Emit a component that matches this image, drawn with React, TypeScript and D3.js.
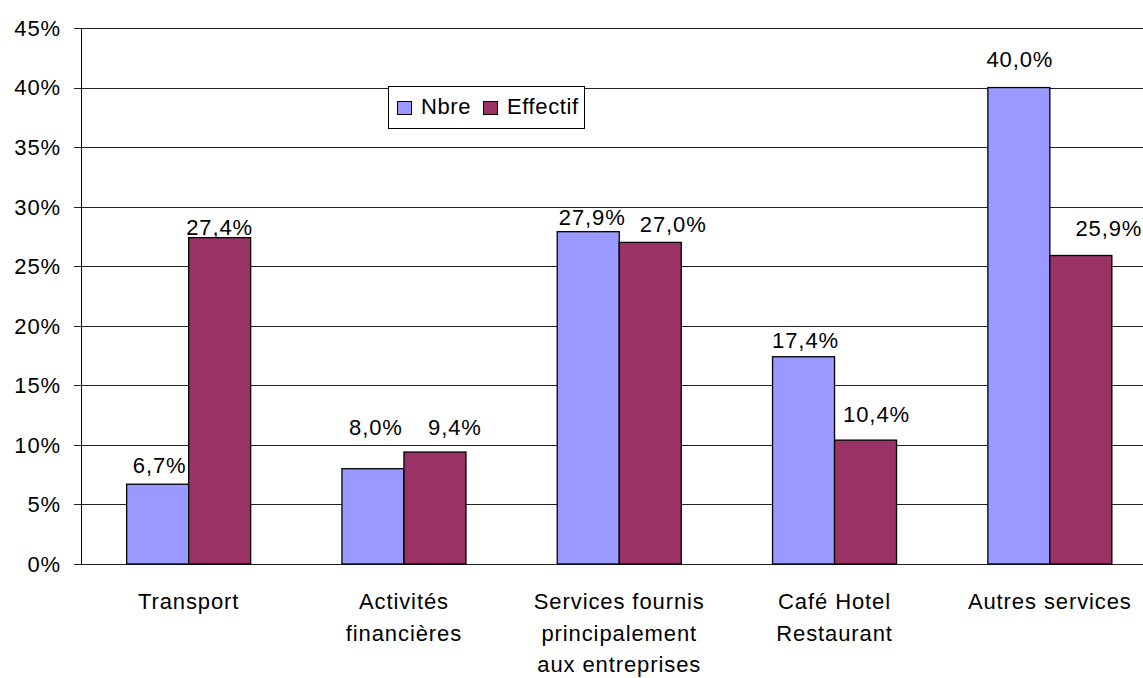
import React from "react";
import * as d3 from "d3";

const categories: string[][] = [
  ["Transport"],
  ["Activités", "financières"],
  ["Services fournis", "principalement", "aux entreprises"],
  ["Café Hotel", "Restaurant"],
  ["Autres services"],
];
const seriesNames = ["Nbre", "Effectif"];
const nbre = [6.7, 8.0, 27.9, 17.4, 40.0];
const effectif = [27.4, 9.4, 27.0, 10.4, 25.9];
const yTicks = [0, 5, 10, 15, 20, 25, 30, 35, 40, 45];

// label nudges (dx, dy of baseline relative to bar top) as placed in the reference
const nudgeNbre: [number, number][] = [[2, -11], [3, -34], [4, -7], [2, -9], [1, -21]];
const nudgeEff: [number, number][] = [[0, -3], [20, -17], [23, -10], [11, -18], [28, -20]];

const colors = ["#9999FF", "#993366"];
const W = 1143, H = 678;
const FONT = "'Liberation Sans', Arial, Helvetica, sans-serif";

const fmt = (v: number) => v.toFixed(1).replace(".", ",") + "%";

export default function App() {
  const left = 81, top = 28, bottom = 564;
  const band = 215.3;
  const x = d3.scaleBand<number>().domain(d3.range(categories.length)).range([left, left + band * categories.length]).paddingInner(0).paddingOuter(0);
  const y = d3.scaleLinear().domain([0, 45]).range([bottom, top]);
  const bw = x.bandwidth() * 0.288;
  const series = [nbre, effectif];
  const nudges = [nudgeNbre, nudgeEff];
  const textStyle = { fontFamily: FONT, fontSize: 22, letterSpacing: "0.9px", fill: "#000" } as const;

  return (
    <svg width={W} height={H} style={{ position: "absolute", left: 0, top: 0, background: "#fff" }}>
      <rect x={0} y={0} width={W} height={H} fill="#fff" />
      {yTicks.map((t) => (
        <g key={t}>
          <line x1={74} x2={W} y1={Math.round(y(t)) + 0.5} y2={Math.round(y(t)) + 0.5} stroke="#222" strokeWidth={1} />
          <text x={61} y={y(t)} dy="0.36em" textAnchor="end" {...textStyle}>{t}%</text>
        </g>
      ))}
      <line x1={left + 0.5} x2={left + 0.5} y1={top} y2={bottom} stroke="#000" strokeWidth={1} />
      {series.map((vals, si) =>
        vals.map((v, i) => {
          const cx = (x(i) as number) + x.bandwidth() / 2;
          const bx = si === 0 ? cx - bw : cx;
          return (
            <rect key={`${si}-${i}`} x={bx} y={y(v)} width={bw} height={bottom - y(v)} fill={colors[si]} stroke="#000" strokeWidth={1.3} />
          );
        })
      )}
      {series.map((vals, si) =>
        vals.map((v, i) => {
          const cx = (x(i) as number) + x.bandwidth() / 2;
          const lx = (si === 0 ? cx - bw / 2 : cx + bw / 2) + nudges[si][i][0];
          return (
            <text key={`l${si}-${i}`} x={lx} y={y(v) + nudges[si][i][1]} textAnchor="middle" {...textStyle}>{fmt(v)}</text>
          );
        })
      )}
      {categories.map((lines, i) => {
        const cx = (x(i) as number) + x.bandwidth() / 2;
        return (
          <text key={`c${i}`} textAnchor="middle" {...textStyle}>
            {lines.map((ln, j) => (
              <tspan key={j} x={cx} y={609 + j * 31.5}>{ln}</tspan>
            ))}
          </text>
        );
      })}
      <g>
        <rect x={388.5} y={86.5} width={196} height={42} fill="#fff" stroke="#000" strokeWidth={1} />
        {seriesNames.map((n, i) => {
          const sx = i === 0 ? 397 : 483;
          return (
            <g key={n}>
              <rect x={sx + 0.5} y={101.5} width={14} height={13} fill={colors[i]} stroke="#000" strokeWidth={1} />
              <text x={sx + 24} y={114} {...textStyle} letterSpacing="0.6px">{n}</text>
            </g>
          );
        })}
      </g>
    </svg>
  );
}
